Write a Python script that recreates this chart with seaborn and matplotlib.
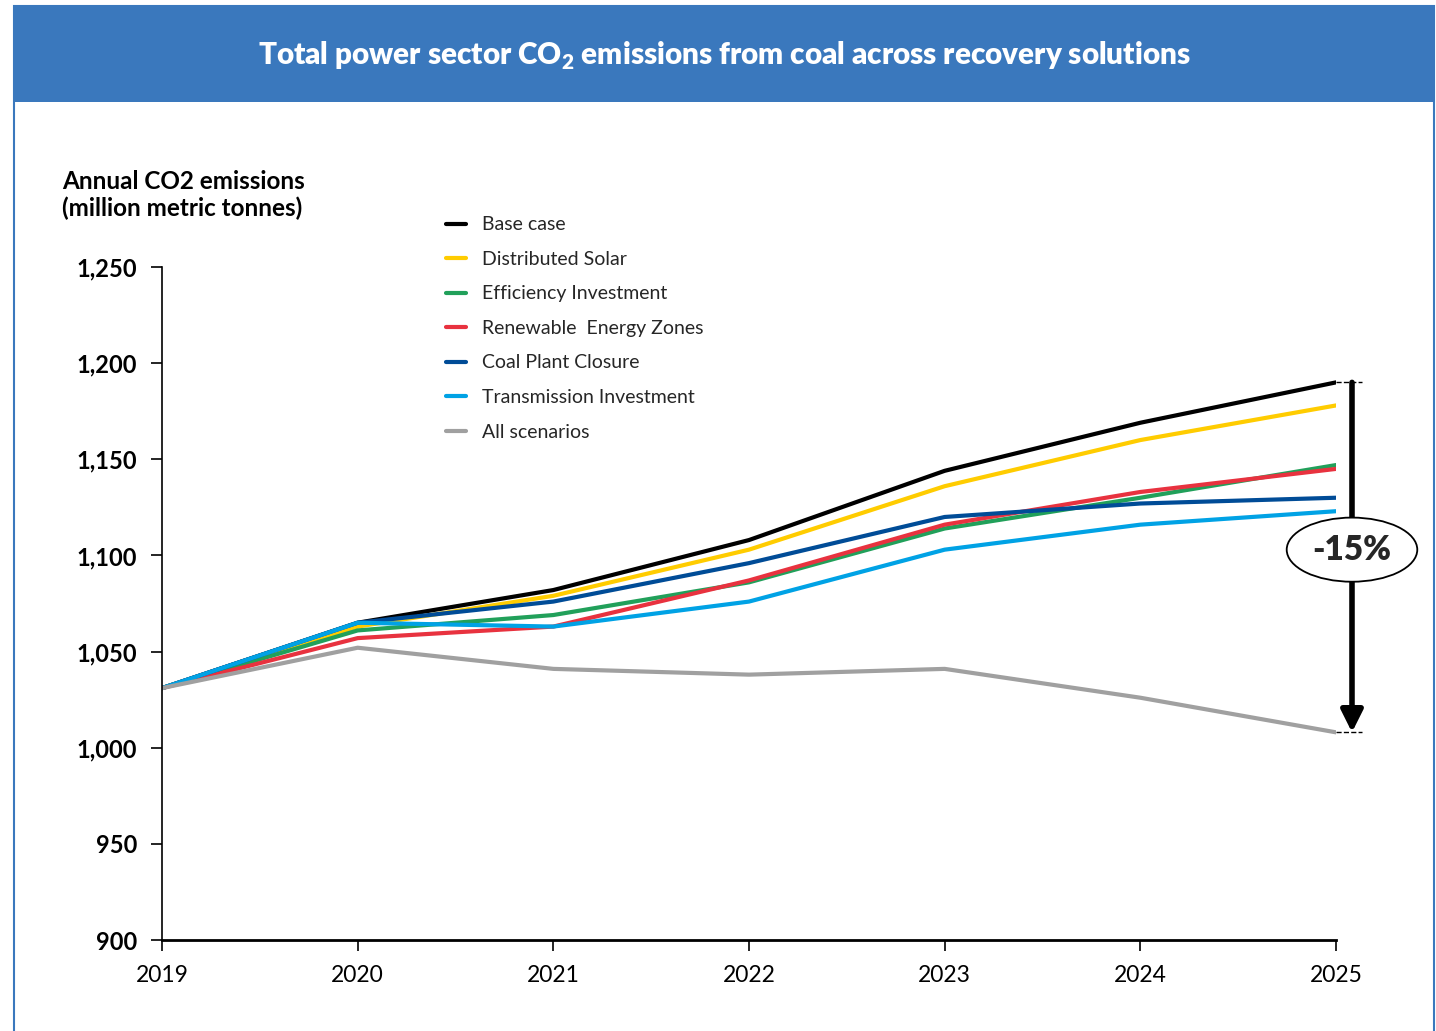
import numpy as np
import pandas as pd
import matplotlib
matplotlib.use("Agg")
import matplotlib.pyplot as plt
from matplotlib.patches import Rectangle
from matplotlib.ticker import FuncFormatter
import seaborn as sns

years = [2019, 2020, 2021, 2022, 2023, 2024, 2025]
base_case = [1031, 1065, 1082, 1108, 1144, 1169, 1190]
distributed_solar = [1031, 1063, 1079, 1103, 1136, 1160, 1178]
efficiency_investment = [1031, 1061, 1069, 1086, 1114, 1130, 1147]
renewable_energy_zones = [1031, 1057, 1063, 1087, 1116, 1133, 1145]
coal_plant_closure = [1031, 1065, 1076, 1096, 1120, 1127, 1130]
transmission_investment = [1031, 1065, 1063, 1076, 1103, 1116, 1123]
all_scenarios = [1031, 1052, 1041, 1038, 1041, 1026, 1008]

series_names = ["Base case", "Distributed Solar", "Efficiency Investment",
                "Renewable  Energy Zones", "Coal Plant Closure",
                "Transmission Investment", "All scenarios"]
series_values = [base_case, distributed_solar, efficiency_investment,
                 renewable_energy_zones, coal_plant_closure,
                 transmission_investment, all_scenarios]
colors = ["#000000", "#FFCC00", "#21A05A", "#E8323F", "#004C97", "#00A2E5", "#A0A0A0"]

title_text = "Total power sector CO$_\\mathregular{2}$ emissions from coal across recovery solutions"
ylabel_text = "Annual CO2 emissions\n(million metric tonnes)"
change_label = "-15%"

rows = []
for name, vals in zip(series_names, series_values):
    for y, v in zip(years, vals):
        rows.append({"Year": y, "Scenario": name, "Emissions": v})
df = pd.DataFrame(rows)

sns.set_theme(style="white")
plt.rcParams['font.family'] = ['Lato', 'DejaVu Sans']

W, H = 1436, 1031
fig = plt.figure(figsize=(W / 100, H / 100), dpi=100)
fig.patch.set_facecolor("white")

blue = "#3A78BD"
# outer frame and title band
fig.add_artist(Rectangle((14 / W, -0.05), (1434 - 14) / W, 1.05 - 6 / H,
                         transform=fig.transFigure, fill=False, ec=blue, lw=1.5))
fig.add_artist(Rectangle((14 / W, 1 - 102 / H), (1434 - 14) / W, (102 - 6) / H,
                         transform=fig.transFigure, fc=blue, ec=blue, lw=0))
fig.text(724 / W, 1 - 56 / H, title_text, color="white", fontsize=21.3,
         fontweight="heavy", ha="center", va="center")

ax = fig.add_axes([162 / W, 1 - 940 / H, (1336 - 162) / W, (940 - 267) / H])
palette = dict(zip(series_names, colors))
sns.lineplot(data=df, x="Year", y="Emissions", hue="Scenario",
             hue_order=series_names, palette=palette, linewidth=3, ax=ax,
             legend=True)

ax.set_xlim(years[0], years[-1])
ax.set_ylim(900, 1250)
ax.set_yticks(np.arange(900, 1251, 50))
ax.set_xticks(years)
ax.yaxis.set_major_formatter(FuncFormatter(lambda v, p: f"{int(v):,}"))
ax.set_xlabel("")
ax.set_ylabel("")
for s in ["top", "right"]:
    ax.spines[s].set_visible(False)
ax.spines["left"].set_color("black")
ax.spines["left"].set_linewidth(1.2)
ax.spines["bottom"].set_color("black")
ax.spines["bottom"].set_linewidth(2)
ax.tick_params(axis="both", which="major", direction="out", length=8,
               width=1.2, color="black", bottom=True, left=True)
ax.tick_params(axis="y", labelsize=17, pad=10, labelcolor="black")
ax.tick_params(axis="x", labelsize=16.5, pad=10, labelcolor="black")
for lab in ax.get_yticklabels():
    lab.set_fontweight("bold")

fig.text(62 / W, 1 - 195 / H, ylabel_text, fontsize=17.5, fontweight="bold",
         ha="left", va="center", linespacing=1.15, color="black")

leg = ax.legend(loc="upper left", bbox_to_anchor=(428 / W, 1 - 199 / H),
                bbox_transform=fig.transFigure, frameon=False, fontsize=14,
                handlelength=1.05, handletextpad=0.85, labelspacing=0.9)
for line in leg.get_lines():
    line.set_linewidth(3)

# change annotation
xa = years[-1] + 16 / 195.7
xc = years[-1] + 26 / 195.7
ax.plot([years[-1], xc], [base_case[-1]] * 2, ls="--", color="black", lw=1, clip_on=False)
ax.plot([years[-1], xc], [all_scenarios[-1]] * 2, ls="--", color="black", lw=1, clip_on=False)
ax.annotate("", xy=(xa, all_scenarios[-1]), xytext=(xa, base_case[-1]),
            arrowprops=dict(arrowstyle="-|>,head_length=1.1,head_width=0.55",
                            color="black", lw=4, shrinkA=0, shrinkB=0),
            annotation_clip=False)
ax.text(xa, 1103, change_label, fontsize=24, fontweight="heavy", ha="center",
        va="center", clip_on=False,
        bbox=dict(boxstyle="ellipse,pad=0.2", fc="white", ec="black", lw=1.3))

fig.savefig("out.png", dpi=100)
